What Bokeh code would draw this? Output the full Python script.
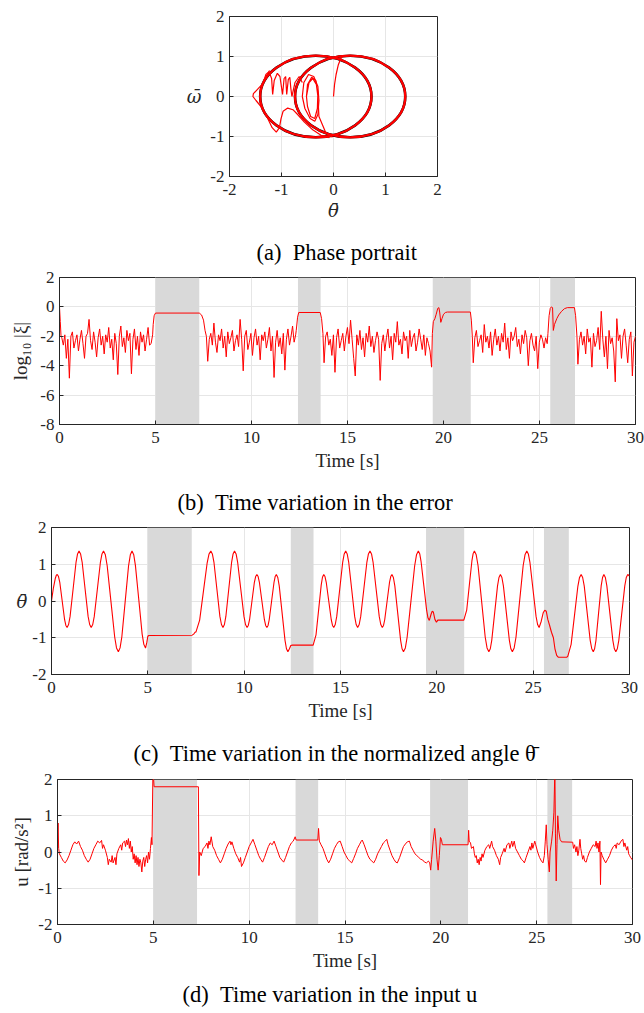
from bokeh.plotting import figure
from bokeh.models import Range1d, FixedTicker, Title, BoxAnnotation
from bokeh.embed import file_html
from bokeh.resources import INLINE
import numpy as np

# ---------------- data ----------------
time_ticks = [0, 5, 10, 15, 20, 25, 30]
err_ticks = [-8, -6, -4, -2, 0, 2]
unit_ticks = [-2, -1, 0, 1, 2]

shade_start = [5.00, 12.42, 19.44, 25.56]
shade_end = [7.28, 13.60, 21.42, 26.85]

# (a) phase portrait: limit-cycle ellipses and transient paths
ell_cx = [-0.34, 0.32]
ell_cy = [0.0, 0.0]
ell_w = [2.14, 2.12]
ell_h = [2.04, 2.04]
tr_theta = [
    [0.0, 0.02, 0.05, 0.09, 0.14, 0.19],
    [-1.23, -1.36, -1.54, -1.55, -1.49, -1.36, -1.26, -1.18, -1.10, -1.04, -1.01, -0.97, -0.88, -0.78, -0.69, -0.56, -0.40, -0.24, -0.08],
    [-1.36, -1.30, -1.24, -1.19, -1.17, -1.14, -1.08, -1.03, -0.98, -0.95, -0.92, -0.90, -0.87, -0.84, -0.82, -0.80, -0.74, -0.66, -0.60],
    [-0.60, -0.57, -0.48, -0.38, -0.30, -0.28, -0.30, -0.36, -0.45, -0.55, -0.60],
    [-0.52, -0.50, -0.42, -0.34, -0.30, -0.31, -0.36, -0.44, -0.50, -0.52, -0.47, -0.40, -0.33, -0.30, -0.28, -0.15, -0.02],
]
tr_omega = [
    [0.0, 0.30, 0.55, 0.78, 0.95, 1.02],
    [0.65, 0.32, 0.07, 0.0, -0.10, -0.31, -0.56, -0.78, -0.89, -0.78, -0.56, -0.37, -0.29, -0.33, -0.45, -0.64, -0.83, -0.97, -1.03],
    [0.32, 0.55, 0.62, 0.45, 0.05, 0.40, 0.58, 0.50, 0.05, 0.45, 0.50, 0.05, 0.42, 0.48, 0.20, 0.0, 0.35, 0.50, 0.35],
    [0.0, 0.35, 0.55, 0.50, 0.25, -0.10, -0.45, -0.62, -0.55, -0.30, 0.0],
    [0.0, 0.30, 0.48, 0.40, 0.10, -0.30, -0.55, -0.50, -0.25, 0.0, 0.35, 0.45, 0.30, 0.0, -0.50, -0.90, -1.02],
]

# (b) log10 |xi|: noisy stretches (uniform sampling within each span) and transitions
err_noise_span = [(0.12, 4.85), (7.72, 12.30), (13.78, 19.38), (21.55, 25.40), (27.0, 30.0)]
err_noise = [
    [-2.1, -2.6, -1.9, -3.5, -2.2, -4.85, -2.0, -1.7, -2.8, -2.3, -1.9, -3.0, -2.2, -1.6, -2.5, -3.5, -2.0, -1.8, -0.85, -2.3,
     -2.9, -1.7, -2.4, -3.4, -2.1, -1.5, -2.6, -2.0, -3.2, -1.9, -2.4, -1.4, -2.8, -2.2, -3.6, -1.8, -2.5, -4.6, -2.0, -1.3,
     -2.7, -2.1, -3.1, -1.6, -2.3, -1.8, -4.55, -2.2, -1.5, -2.9, -2.0, -3.3, -1.7, -2.4, -1.9, -3.0, -2.2, -1.4, -2.6, -2.5, -1.9],
    [-3.7, -2.2, -1.8, -2.6, -1.1, -2.4, -3.1, -1.9, -2.3, -1.5, -2.8, -2.0, -3.4, -1.7, -2.5, -2.1, -1.6, -3.0, -2.3, -1.9,
     -2.7, -0.85, -2.2, -4.35, -2.0, -1.6, -2.9, -2.4, -1.8, -3.3, -2.1, -1.5, -2.6, -2.0, -3.6, -1.9, -2.3, -1.7, -2.8, -2.2,
     -1.4, -3.0, -2.0, -4.8, -2.4, -1.6, -2.7, -2.1, -3.2, -1.8, -4.3, -2.2, -1.5, -2.6, -2.0, -1.3, -2.4, -1.9],
    [-3.8, -2.0, -1.7, -2.6, -2.2, -3.3, -1.9, -4.45, -2.1, -1.5, -2.8, -2.3, -1.8, -3.0, -2.0, -1.4, -2.5, -0.9, -2.2, -3.5,
     -4.7, -1.9, -2.6, -1.6, -2.9, -2.1, -3.4, -1.8, -2.4, -1.3, -2.7, -2.0, -3.1, -2.3, -1.7, -2.2, -5.0, -2.5, -1.9, -3.0,
     -2.1, -1.5, -2.8, -2.0, -3.6, -1.8, -2.4, -1.0, -2.6, -2.2, -3.2, -1.7, -2.3, -2.0, -3.5, -1.6, -2.7, -2.1, -1.8, -3.0,
     -2.4, -1.5, -2.2, -2.9, -1.9, -3.3, -2.1, -2.5, -3.0, -4.1],
    [-3.8, -2.1, -1.6, -2.7, -2.3, -1.9, -3.1, -1.2, -2.4, -2.0, -2.8, -1.7, -3.3, -2.2, -1.5, -2.6, -2.0, -3.0, -1.8, -2.4,
     -1.1, -2.9, -2.1, -3.5, -1.7, -2.3, -2.0, -1.4, -2.7, -2.2, -3.2, -1.9, -2.5, -1.6, -2.1, -4.0, -2.3, -1.8, -2.6, -3.0,
     -2.0, -4.2, -2.4, -1.9, -2.2, -2.8, -2.1, -2.5],
    [-3.9, -2.2, -1.7, -2.6, -2.0, -3.2, -1.5, -2.4, -2.1, -4.1, -1.8, -2.7, -2.3, -1.4, -2.9, -0.3, -2.2, -3.4, -2.0, -4.2,
     -1.6, -2.5, -2.1, -3.0, -5.1, -0.8, -2.3, -1.9, -3.5, -2.0, -1.5, -2.6, -3.8, -2.2, -1.7, -4.7, -2.4, -2.0],
]
err_trans = [
    [(0.0, 0.0), (0.04, -1.0), (0.08, -2.0)],
    [(4.88, -1.2), (4.93, -0.6), (5.0, -0.42), (7.28, -0.42), (7.40, -0.55), (7.50, -0.9), (7.58, -1.6), (7.65, -2.0)],
    [(12.33, -1.6), (12.40, -0.7), (12.46, -0.38), (13.58, -0.38), (13.65, -0.8), (13.72, -1.8)],
    [(19.42, -1.8), (19.47, -1.0), (19.55, -0.8), (19.62, -0.5), (19.70, -0.1), (19.76, -0.05), (19.80, -0.35),
     (19.86, -1.05), (19.92, -0.8), (20.0, -0.5), (20.1, -0.38), (20.2, -0.35), (21.40, -0.35), (21.45, -0.9), (21.5, -2.0)],
    [(25.44, -1.8), (25.50, -0.6), (25.56, -0.1), (25.62, 0.0), (25.68, -0.05), (25.72, -1.6), (25.78, -1.2), (25.90, -0.8),
     (26.0, -0.55), (26.15, -0.3), (26.30, -0.12), (26.45, -0.05), (26.82, -0.05), (26.88, -0.6), (26.95, -2.0)],
]

# (c) normalized angle (sorted by time below)
theta_pts = [
    (0.00, 0.00), (0.10, 0.36), (0.20, 0.62), (0.25, 0.70), (0.30, 0.72),
    (0.364, 0.665), (0.43, 0.51), (0.555, 0.00), (0.68, -0.51), (0.746, -0.665), (0.81, -0.72),
    (0.8875, -0.64), (0.965, -0.42), (1.12, 0.32), (1.275, 1.06), (1.3525, 1.28), (1.43, 1.36),
    (1.509, 1.28), (1.59, 1.06), (1.745, 0.32), (1.90, -0.42), (1.981, -0.64), (2.06, -0.72),
    (2.14, -0.64), (2.22, -0.42), (2.38, 0.32), (2.54, 1.06), (2.62, 1.28), (2.70, 1.36),
    (2.796, 1.256), (2.89, 0.96), (3.085, -0.01), (3.28, -0.98), (3.374, -1.276), (3.47, -1.38),
    (3.559, -1.276), (3.65, -0.98), (3.825, -0.01), (4.00, 0.96), (4.091, 1.256), (4.18, 1.36),
    (4.2675, 1.26), (4.355, 0.97), (4.53, 0.04), (4.705, -0.90), (4.7925, -1.18), (4.88, -1.28),
    (4.95, -1.12), (5.00, -0.96), (5.05, -0.94), (7.30, -0.93), (7.38, -0.90), (7.45, -0.85), (7.50, -0.84),
    (7.69, -0.52), (7.885, 0.26), (8.08, 1.04), (8.174, 1.276), (8.27, 1.36),
    (8.349, 1.28), (8.43, 1.06), (8.585, 0.32), (8.74, -0.42), (8.821, -0.64), (8.90, -0.72),
    (8.975, -0.64), (9.05, -0.42), (9.20, 0.32), (9.35, 1.06), (9.425, 1.28), (9.50, 1.36),
    (9.581, 1.28), (9.66, 1.06), (9.825, 0.32), (9.99, -0.42), (10.069, -0.64), (10.15, -0.72),
    (10.214, -0.665), (10.28, -0.51), (10.405, 0.00), (10.53, 0.51), (10.596, 0.665), (10.66, 0.72),
    (10.725, 0.665), (10.79, 0.51), (10.92, 0.00), (11.05, -0.51), (11.115, -0.665), (11.18, -0.72),
    (11.241, -0.665), (11.30, -0.51), (11.425, 0.00), (11.55, 0.51), (11.609, 0.665), (11.67, 0.72),
    (11.745, 0.64), (11.82, 0.41), (11.97, -0.33), (12.12, -1.07), (12.195, -1.30), (12.27, -1.38),
    (12.35, -1.30), (12.42, -1.21), (12.50, -1.20), (13.58, -1.20),
    (13.73, -0.92), (13.865, -0.24), (14.00, 0.44), (14.064, 0.647), (14.13, 0.72),
    (14.195, 0.665), (14.26, 0.51), (14.39, 0.00), (14.52, -0.51), (14.585, -0.665), (14.65, -0.72),
    (14.7275, -0.64), (14.805, -0.42), (14.96, 0.32), (15.115, 1.06), (15.1925, 1.28), (15.27, 1.36),
    (15.3475, 1.28), (15.425, 1.06), (15.58, 0.32), (15.735, -0.42), (15.8125, -0.64), (15.89, -0.72),
    (15.97, -0.64), (16.05, -0.42), (16.21, 0.32), (16.37, 1.06), (16.45, 1.28), (16.53, 1.36),
    (16.61, 1.28), (16.69, 1.06), (16.85, 0.32), (17.01, -0.42), (17.09, -0.64), (17.17, -0.72),
    (17.2325, -0.665), (17.295, -0.51), (17.42, 0.00), (17.545, 0.51), (17.6075, 0.665), (17.67, 0.72),
    (17.745, 0.64), (17.82, 0.41), (17.97, -0.33), (18.12, -1.07), (18.195, -1.30), (18.27, -1.38),
    (18.366, -1.276), (18.46, -0.98), (18.655, -0.01), (18.85, 0.96), (18.944, 1.256), (19.04, 1.36),
    (19.111, 1.288), (19.18, 1.08), (19.325, 0.42), (19.47, -0.25), (19.539, -0.458), (19.61, -0.53),
    (19.70, -0.36), (19.76, -0.28), (19.82, -0.30), (19.90, -0.50), (19.98, -0.58), (20.05, -0.52), (21.40, -0.52),
    (21.55, -0.25), (21.685, 0.42), (21.82, 1.09), (21.884, 1.289), (21.95, 1.36),
    (22.044, 1.256), (22.14, 0.96), (22.325, -0.01), (22.51, -0.98), (22.606, -1.276), (22.70, -1.38),
    (22.775, -1.30), (22.85, -1.07), (23.00, -0.33), (23.15, 0.41), (23.225, 0.64), (23.30, 0.72),
    (23.3775, 0.64), (23.455, 0.41), (23.61, -0.33), (23.765, -1.07), (23.8425, -1.30), (23.92, -1.38),
    (24.014, -1.276), (24.11, -0.98), (24.295, -0.01), (24.48, 0.96), (24.576, 1.256), (24.67, 1.36),
    (24.75, 1.28), (24.83, 1.06), (24.99, 0.32), (25.15, -0.42), (25.23, -0.64), (25.31, -0.72),
    (25.42, -0.55), (25.52, -0.32), (25.60, -0.25), (25.68, -0.28), (25.76, -0.50), (25.85, -0.66), (25.95, -0.85),
    (26.05, -1.00), (26.13, -1.30), (26.22, -1.48), (26.30, -1.53), (26.75, -1.53), (26.80, -1.50),
    (26.97, -1.18), (27.145, -0.39), (27.32, 0.40), (27.404, 0.636), (27.49, 0.72),
    (27.569, 0.64), (27.65, 0.41), (27.805, -0.33), (27.96, -1.07), (28.041, -1.30), (28.12, -1.38),
    (28.189, -1.30), (28.26, -1.07), (28.395, -0.33), (28.53, 0.41), (28.601, 0.64), (28.67, 0.72),
    (28.7475, 0.64), (28.825, 0.41), (28.98, -0.33), (29.135, -1.07), (29.2125, -1.30), (29.29, -1.38),
    (29.3675, -1.30), (29.445, -1.07), (29.60, -0.33), (29.755, 0.41), (29.8325, 0.64), (29.91, 0.72),
    (30.00, 0.68),
]

# (d) input u
u_pts = [
    (0.0, 0.3), (0.03, 0.8), (0.06, 0.1), (0.1, -0.05), (0.2, -0.15), (0.3, -0.25), (0.4, -0.3), (0.5, -0.22),
    (0.6, -0.1), (0.7, 0.05), (0.8, 0.2), (0.9, 0.28), (1.0, 0.22), (1.1, 0.3), (1.2, 0.15), (1.3, 0.05),
    (1.4, -0.1), (1.5, -0.2), (1.6, -0.28), (1.7, -0.2), (1.8, -0.05), (1.9, 0.1), (2.0, 0.2), (2.1, 0.3),
    (2.2, 0.25), (2.3, 0.32), (2.35, 0.1), (2.4, 0.2), (2.5, 0.05), (2.6, -0.15), (2.65, -0.35), (2.7, -0.2),
    (2.8, -0.28), (2.85, -0.1), (2.9, -0.3), (3.0, -0.15), (3.05, -0.35), (3.1, -0.05), (3.2, 0.1), (3.3, 0.2),
    (3.35, 0.05), (3.4, 0.25), (3.5, 0.3), (3.55, 0.15), (3.6, 0.33), (3.65, 0.2), (3.7, 0.37), (3.75, 0.1),
    (3.8, 0.3), (3.85, 0.0), (3.9, 0.15), (3.95, -0.2), (4.0, -0.05), (4.05, -0.3), (4.1, -0.1), (4.15, -0.35),
    (4.2, -0.15), (4.25, -0.4), (4.3, -0.2), (4.35, -0.3), (4.4, -0.55), (4.45, -0.25), (4.5, -0.15), (4.55, -0.4),
    (4.6, -0.2), (4.65, -0.1), (4.7, -0.3), (4.75, 0.0), (4.8, -0.2), (4.85, 0.1), (4.9, 0.4), (4.93, 0.2),
    (4.98, 2.3), (5.04, 1.8), (7.35, 1.8), (7.38, -0.65), (7.42, 0.0), (7.5, -0.1), (7.6, 0.1), (7.7, 0.15),
    (7.8, 0.25), (7.85, 0.1), (7.9, 0.3), (7.95, 0.2), (8.02, 0.42), (8.1, 0.15), (8.2, 0.05), (8.3, -0.1),
    (8.4, -0.2), (8.5, -0.3), (8.6, -0.2), (8.7, -0.05), (8.8, 0.1), (8.9, 0.22), (9.0, 0.3), (9.05, 0.2),
    (9.1, 0.28), (9.2, 0.1), (9.3, -0.05), (9.4, -0.15), (9.5, -0.28), (9.55, -0.15), (9.6, -0.4), (9.7, -0.3),
    (9.8, -0.15), (9.9, 0.0), (10.0, 0.15), (10.1, 0.25), (10.2, 0.35), (10.3, 0.2), (10.4, 0.05), (10.5, -0.1),
    (10.6, -0.2), (10.7, -0.28), (10.8, -0.15), (10.9, 0.0), (11.0, 0.15), (11.1, 0.25), (11.2, 0.2), (11.3, 0.3),
    (11.4, 0.15), (11.5, 0.0), (11.6, -0.15), (11.7, -0.22), (11.8, -0.28), (11.9, -0.15), (12.0, 0.0), (12.1, 0.15),
    (12.2, 0.25), (12.3, 0.3), (12.4, 0.42), (12.45, 0.33), (13.58, 0.33), (13.62, 0.65), (13.66, 0.3), (13.75, 0.2),
    (13.85, 0.1), (13.95, -0.05), (14.05, -0.2), (14.15, -0.3), (14.25, -0.2), (14.35, -0.05), (14.45, 0.1), (14.55, 0.2),
    (14.65, 0.28), (14.75, 0.3), (14.85, 0.15), (14.95, 0.0), (15.05, -0.1), (15.15, -0.2), (15.25, -0.25), (15.35, -0.3),
    (15.45, -0.18), (15.55, -0.05), (15.65, 0.1), (15.75, 0.2), (15.85, 0.3), (15.9, 0.33), (16.0, 0.2), (16.1, 0.05),
    (16.2, -0.1), (16.3, -0.2), (16.4, -0.25), (16.5, -0.3), (16.6, -0.2), (16.7, -0.05), (16.8, 0.05), (16.9, 0.15),
    (17.0, 0.25), (17.1, 0.3), (17.18, 0.35), (17.25, 0.2), (17.35, 0.05), (17.45, -0.1), (17.55, -0.2), (17.65, -0.28),
    (17.73, -0.3), (17.85, -0.15), (17.95, 0.0), (18.05, 0.15), (18.15, 0.22), (18.25, 0.28), (18.36, 0.3), (18.45, 0.15),
    (18.55, 0.05), (18.65, -0.05), (18.75, -0.1), (18.85, -0.15), (18.95, -0.2), (19.05, -0.22), (19.15, -0.28), (19.25, -0.3),
    (19.35, -0.25), (19.42, -0.3), (19.47, -0.5), (19.52, -0.2), (19.6, 0.3), (19.68, 0.65), (19.74, 0.3), (19.8, -0.2),
    (19.86, -0.5), (19.92, -0.1), (19.98, 0.4), (20.03, 0.35), (20.08, 0.2), (21.42, 0.2), (21.45, 0.6), (21.48, 0.3),
    (21.55, 0.25), (21.6, 0.1), (21.7, 0.15), (21.75, -0.05), (21.8, -0.15), (21.85, -0.1), (21.9, -0.3), (21.95, -0.2),
    (22.0, -0.35), (22.05, -0.15), (22.1, -0.25), (22.15, -0.05), (22.2, -0.15), (22.3, 0.05), (22.4, 0.15), (22.5, 0.2),
    (22.55, 0.1), (22.65, 0.3), (22.7, 0.15), (22.8, 0.05), (22.9, -0.1), (23.0, -0.2), (23.07, -0.35), (23.12, -0.15),
    (23.2, -0.05), (23.3, 0.1), (23.35, 0.0), (23.45, 0.2), (23.55, 0.25), (23.6, 0.1), (23.7, 0.3), (23.75, 0.15),
    (23.83, 0.3), (23.9, 0.1), (24.0, 0.0), (24.1, -0.1), (24.2, -0.2), (24.3, -0.25), (24.36, -0.3), (24.45, -0.15),
    (24.55, 0.0), (24.65, 0.15), (24.7, 0.05), (24.75, 0.25), (24.8, 0.1), (24.9, 0.3), (24.95, 0.2), (25.05, 0.0),
    (25.15, -0.15), (25.25, -0.25), (25.33, -0.3), (25.4, -0.1), (25.45, 0.3), (25.5, 0.75), (25.54, 0.2), (25.6, -0.2),
    (25.66, -0.55), (25.7, 0.0), (25.78, 0.3), (25.84, 0.6), (25.9, 1.1), (25.95, 2.3), (25.98, 0.5), (26.02, -0.8),
    (26.06, 0.2), (26.1, 1.0), (26.15, 0.6), (26.22, 0.35), (26.3, 0.28), (26.88, 0.27), (26.92, 0.1), (26.98, 0.2),
    (27.05, 0.0), (27.1, 0.15), (27.15, -0.1), (27.2, 0.05), (27.26, 0.35), (27.3, 0.1), (27.35, -0.05), (27.4, -0.2),
    (27.45, -0.1), (27.5, -0.25), (27.58, -0.28), (27.65, -0.15), (27.75, 0.0), (27.85, 0.1), (27.95, 0.2), (28.05, 0.15),
    (28.1, 0.3), (28.15, 0.1), (28.2, 0.25), (28.25, 0.0), (28.3, 0.3), (28.33, -0.9), (28.36, 0.0), (28.42, -0.1),
    (28.5, -0.2), (28.6, -0.3), (28.7, -0.2), (28.8, -0.1), (28.9, 0.05), (29.0, 0.15), (29.1, 0.2), (29.15, 0.1),
    (29.2, 0.25), (29.3, 0.2), (29.4, 0.3), (29.5, 0.35), (29.55, 0.15), (29.6, 0.25), (29.7, 0.05), (29.75, 0.15),
    (29.8, -0.05), (29.85, -0.1), (29.9, -0.15), (30.0, -0.22),
]

captions = [
    "(a)\u00a0\u00a0Phase portrait",
    "(b)\u00a0\u00a0Time variation in the error",
    "(c)\u00a0\u00a0Time variation in the normalized angle \u03b8\u0304",
    "(d)\u00a0\u00a0Time variation in the input u",
]

# ---------------- styling ----------------
FONT = "Liberation Serif"
MFONT = "DejaVu Serif"
AX = "#262626"
GRID = "#e6e6e6"
SHADE = "#d9d9d9"
RED = "#ff0000"
CAP_SIZE = "22.5px"


def make_fig(w, h, xr, yr, xt, yt, bl, br, bt, bb, xlabel, ylabel, horiz_ylabel):
    p = figure(width=w, height=h, x_range=Range1d(*xr), y_range=Range1d(*yr),
               output_backend="svg", toolbar_location=None,
               min_border_left=bl, min_border_right=br, min_border_top=bt, min_border_bottom=bb)
    p.xaxis.ticker = FixedTicker(ticks=xt)
    p.yaxis.ticker = FixedTicker(ticks=yt)
    p.xaxis.major_label_overrides = {t: str(t) for t in xt}
    p.yaxis.major_label_overrides = {t: str(t) for t in yt}
    for ax in (p.xaxis[0], p.yaxis[0]):
        ax.axis_line_color = AX
        ax.major_tick_line_color = AX
        ax.major_tick_in = 4
        ax.major_tick_out = 0
        ax.minor_tick_line_color = None
        ax.major_label_text_font = FONT
        ax.major_label_text_font_size = "17px"
        ax.major_label_text_color = AX
        ax.axis_label_text_font = FONT
        ax.axis_label_text_font_size = "19px"
        ax.axis_label_text_color = AX
        ax.axis_label_text_font_style = "normal"
    p.xaxis.axis_label = xlabel
    p.yaxis.axis_label = ylabel
    p.xaxis.major_label_standoff = 7
    p.yaxis.major_label_standoff = 5
    p.xaxis.axis_label_standoff = 4
    p.yaxis.axis_label_standoff = 6
    if horiz_ylabel:
        p.yaxis.axis_label_orientation = "horizontal"
        p.yaxis.axis_label_text_font_style = "italic"
        p.yaxis.axis_label_text_font = MFONT
        p.yaxis.axis_label_text_font_size = "18px"
    p.grid.grid_line_color = GRID
    p.grid.grid_line_width = 1
    p.outline_line_color = AX
    p.outline_line_alpha = 1
    p.outline_line_width = 1
    p.background_fill_color = "white"
    p.border_fill_color = "white"
    # the caption of the panel above is carried in this figure's top title slot
    p.title.text = ""
    p.title.text_font = FONT
    p.title.text_font_size = CAP_SIZE
    p.title.text_font_style = "normal"
    p.title.text_color = "black"
    p.title.align = "left"
    return p


def set_top_caption(p, text, offset, standoff):
    p.title.text = text
    p.title.offset = offset
    p.title.standoff = standoff


def add_shades(p):
    for a, b in zip(shade_start, shade_end):
        p.add_layout(BoxAnnotation(left=a, right=b, fill_color=SHADE, fill_alpha=1.0,
                                   line_color=None, level="underlay"))


W = 644

# (a)  canvas y 0..223
pa = make_fig(W, 223, (-2, 2), (-2, 2), unit_ticks, unit_ticks, 229, 207, 16, 47,
              "\u03b8\u0304", "\u03c9\u0304", True)
pa.xaxis.axis_label_text_font_style = "italic"
pa.xaxis.axis_label_text_font = MFONT
pa.xaxis.axis_label_text_font_size = "18px"
pa.xaxis.axis_label_standoff = 2
pa.ellipse(x=ell_cx, y=ell_cy, width=ell_w, height=ell_h, fill_color=None,
           line_color="black", line_width=2.6)
pa.ellipse(x=ell_cx, y=ell_cy, width=ell_w, height=ell_h, fill_color=None,
           line_color=RED, line_width=2.3)
pa.multi_line(xs=tr_theta, ys=tr_omega, line_color=RED, line_width=1.2)

# (b)  canvas y 223..473, carries caption (a) on top
pb = make_fig(W, 250, (0, 30), (-8, 2), time_ticks, err_ticks, 59, 9, 54, 47,
              "Time [s]", "log\u2081\u2080 |\u03be|", False)
set_top_caption(pb, captions[0], 197, 26)
add_shades(pb)
err_t, err_v = [], []
for i in range(5):
    for t, v in err_trans[i]:
        err_t.append(t)
        err_v.append(v)
    a, b = err_noise_span[i]
    err_t.extend(np.linspace(a, b, len(err_noise[i])).tolist())
    err_v.extend(err_noise[i])
pb.line(err_t, err_v, line_color=RED, line_width=1.0)

# (c)  canvas y 473..723, carries caption (b) on top
pc = make_fig(W, 250, (0, 30), (-2, 2), time_ticks, unit_ticks, 51, 15, 54, 47,
              "Time [s]", "\u03b8\u0304", True)
pc.yaxis.axis_label_standoff = 2
set_top_caption(pc, captions[1], 126, 26)
add_shades(pc)
theta_sorted = sorted(theta_pts)
pc.line([q[0] for q in theta_sorted], [q[1] for q in theta_sorted], line_color=RED, line_width=1.1)

# (d)  canvas y 723..1013, carries caption (c) on top and (d) below
pd_ = make_fig(W, 290, (0, 30), (-2, 2), time_ticks, unit_ticks, 57, 12, 56, 85,
               "Time [s]", "u [rad/s\u00b2]", False)
pd_.yaxis.axis_label_standoff = 3
set_top_caption(pd_, captions[2], 76, 28)
add_shades(pd_)
pd_.line([q[0] for q in u_pts], [q[1] for q in u_pts], line_color=RED, line_width=1.0)
pd_.add_layout(Title(text=captions[3], align="left", offset=125, standoff=13,
                     text_font=FONT, text_font_size=CAP_SIZE, text_font_style="normal",
                     text_color="black"), "below")

open("out.html", "w").write(file_html([pa, pb, pc, pd_], INLINE))
